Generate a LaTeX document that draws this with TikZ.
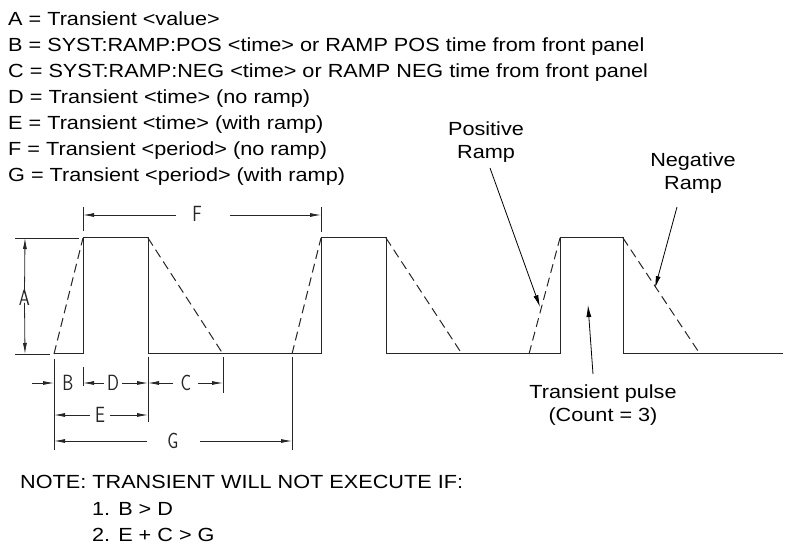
\documentclass[tikz,border=0pt]{standalone}
\usepackage{fontspec}
\setmainfont[FakeStretch=1.14]{Liberation Sans}
\usepackage{graphicx}
\usetikzlibrary{arrows.meta}
\newcommand\dimtxt[1]{\scalebox{0.8}[1]{\sffamily\fontsize{22}{22}\selectfont #1}}
\begin{document}
\begin{tikzpicture}[x=1pt,y=-1pt,
  txt/.style={font=\fontsize{19}{26}\selectfont, inner sep=0pt, anchor=base west},
  lbl/.style={font=\fontsize{19}{22.8}\selectfont, inner sep=0pt, align=center, anchor=north},
  dimlbl/.style={inner sep=0pt, text=black!85},
  wave/.style={line width=1pt, black!85},
  rampln/.style={wave, dash pattern=on 9pt off 5pt},
  dimln/.style={line width=0.8pt, black!85},
  tip/.style={dimln, -{Latex[length=11pt,width=4pt]}},
  lead/.style={line width=0.8pt, black, -{Latex[length=12pt,width=5pt]}}
]
\useasboundingbox (0,0) rectangle (785,545);

% ---- legend text
\node[txt] (tA) at (8,25.7)  {A = Transient <value>};
\node[txt] (tB) at (8,51.7)  {B = SYST:RAMP:POS <time> or RAMP POS time from front panel};
\node[txt] (tC) at (8,77.7)  {C = SYST:RAMP:NEG <time> or RAMP NEG time from front panel};
\node[txt] (tD) at (8,103.7) {D = Transient <time> (no ramp)};
\node[txt] (tE) at (8,129.7) {E = Transient <time> (with ramp)};
\node[txt] (tF) at (8,155.7) {F = Transient <period> (no ramp)};
\node[txt] (tG) at (8,181.7) {G = Transient <period> (with ramp)};

% ---- note
\node[txt] (n0) at (20,488.5) {NOTE: TRANSIENT WILL NOT EXECUTE IF:};
\node[txt] (n1) at (92,515)   {1. B > D};
\node[txt] (n2) at (92,541.5) {2. E + C > G};

% ---- waveform coordinates
\coordinate (w0) at (54,354);
\coordinate (w1) at (83,354);  \coordinate (w2) at (83,238);
\coordinate (w3) at (148,238); \coordinate (w4) at (148,354);
\coordinate (w5) at (321,354); \coordinate (w6) at (321,238);
\coordinate (w7) at (386,238); \coordinate (w8) at (386,354);
\coordinate (w9) at (560,354); \coordinate (w10) at (560,238);
\coordinate (w11) at (623,238); \coordinate (w12) at (623,354);
\coordinate (w13) at (783,354);
\draw[wave] (w0) -- (w1) -- (w2) -- (w3) -- (w4) -- (w5) -- (w6) -- (w7) -- (w8)
  -- (w9) -- (w10) -- (w11) -- (w12) -- (w13);

% ramps
\coordinate (rn1) at (223,354);
\coordinate (rp2) at (292,354);
\coordinate (rn2) at (462,354);
\coordinate (rp3) at (529,354);
\coordinate (rn3) at (700,354);
\draw[rampln] (w0) -- (w2);
\draw[rampln] (w3) -- (rn1);
\draw[rampln] (rp2) -- (w6);
\draw[rampln] (w7) -- (rn2);
\draw[rampln] (rp3) -- (w10);
\draw[rampln] (w11) -- (rn3);

% ---- extension lines
\draw[dimln] (15,238) -- (79,238);
\draw[dimln] (15,354) -- (50,354);
\draw[dimln] (83,207) -- (83,231);
\draw[dimln] (321,207) -- (321,232);
\draw[dimln] (54,359) -- (54,450);
\draw[dimln] (83,367) -- (83,386);
\draw[dimln] (148,357) -- (148,422);
\draw[dimln] (223,357) -- (223,393);
\draw[dimln] (292,357) -- (292,450);

% ---- A
\node[dimlbl] (lA) at (24.5,298) {\dimtxt{A}};
\coordinate (aT) at (25,238); \coordinate (aB) at (25,354);
\draw[tip] ([yshift=-3pt]lA.north) -- (aT);
\draw[tip] ([yshift=3pt]lA.south) -- (aB);

% ---- F
\node[dimlbl] (lF) at (197,214) {\dimtxt{F}};
\coordinate (fL) at (83,215); \coordinate (fR) at (321,215);
\draw[tip] (176,215) -- (fL);
\draw[tip] (230,215) -- (fR);

% ---- B, D, C row
\node[dimlbl] (lB) at (68,383) {\dimtxt{B}};
\node[dimlbl] (lD) at (113,383) {\dimtxt{D}};
\node[dimlbl] (lC) at (186,383) {\dimtxt{C}};
\coordinate (bL) at (54,383); \coordinate (dL) at (83,383);
\coordinate (dR) at (148,383); \coordinate (cR) at (223,383);
\draw[tip] (32,383) -- (bL);
\draw[tip] (104,383) -- (dL);
\draw[tip] (122,383) -- (dR);
\draw[tip] (173,383) -- (dR);
\draw[tip] (198,383) -- (cR);

% ---- E
\node[dimlbl] (lE) at (100,415) {\dimtxt{E}};
\coordinate (eL) at (54,415); \coordinate (eR) at (148,415);
\draw[tip] (90,415) -- (eL);
\draw[tip] (110,415) -- (eR);

% ---- G
\node[dimlbl] (lG) at (173,441) {\dimtxt{G}};
\coordinate (gL) at (54,441); \coordinate (gR) at (292,441);
\draw[tip] (147,441) -- (gL);
\draw[tip] (200,441) -- (gR);

% ---- labels with leaders
\node[lbl] (pos) at (486,121.5) {Positive\\Ramp};
\node[lbl] (neg) at (693,153) {Negative\\Ramp};
\node[lbl] (tp)  at (603,385) {Transient pulse\\(Count = 3)};
\coordinate (pS) at (490,168); \coordinate (pT) at (540,307);
\coordinate (nS) at (677,207); \coordinate (nT) at (655,288);
\coordinate (tS) at (593,374); \coordinate (tT) at (588,305);
\draw[lead] (pS) -- (pT);
\draw[lead] (nS) -- (nT);
\draw[lead] (tS) -- (tT);
\end{tikzpicture}
\end{document}
